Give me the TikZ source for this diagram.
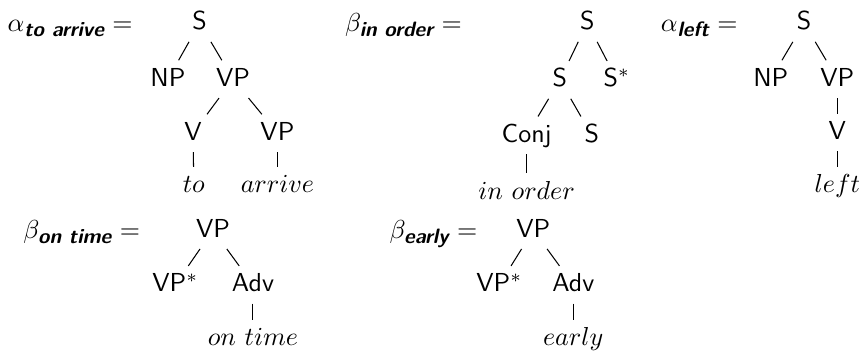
\documentclass[tikz,border=0pt]{standalone}
\usepackage{amsmath, amssymb}
\usepackage{xcolor}
\usepackage{tikz}
\usetikzlibrary{arrows.meta,positioning}

% subscript name of a tree
\newcommand{\treename}[1]{\mbox{\fontsize{8}{9}\selectfont\sffamily\bfseries\itshape #1}}

\begin{document}
\begin{tikzpicture}
  % Styles
  \tikzstyle{cat}=[inner sep=3.3pt, text height=1.5ex, text depth=.25ex, font=\sffamily]
  \tikzstyle{word}=[inner sep=3.3pt, text height=1.5ex, text depth=.25ex]
  \tikzstyle{lab}=[anchor=base east, inner sep=0pt]

  \useasboundingbox (0,0) rectangle (11.64,-4.81);

  % Tree 1: alpha to arrive
  \node[lab] (a1_lab) at (1.80,-0.42) {$\alpha_{\treename{to arrive}} =$};
  \node[cat] (a1_s)   at (2.70,-0.31) {S};
  \node[cat] (a1_np)  at (2.27,-1.07) {NP};
  \node[cat] (a1_vp)  at (3.15,-1.07) {VP};
  \node[cat] (a1_v)   at (2.61,-1.80) {V};
  \node[cat] (a1_vp2) at (3.75,-1.80) {VP};
  \node[word] (a1_to) at (2.62,-2.51) {$to$};
  \node[word] (a1_arrive) at (3.75,-2.51) {$arrive$};

  \draw (a1_s) -- (a1_np);
  \draw (a1_s) -- (a1_vp);
  \draw (a1_vp) -- (a1_v);
  \draw (a1_vp) -- (a1_vp2);
  \draw (a1_v) -- (a1_to);
  \draw (a1_vp2) -- (a1_arrive);

  % Tree 2: beta in order
  \node[lab] (b1_lab) at (6.25,-0.42) {$\beta_{\treename{in order}} =$};
  \node[cat] (b1_s)    at (7.94,-0.31) {S};
  \node[cat] (b1_s2)   at (7.57,-1.08) {S};
  \node[cat] (b1_foot) at (8.34,-1.08) {S$^*$};
  \node[cat] (b1_conj) at (7.12,-1.83) {Conj};
  \node[cat] (b1_s3)   at (8.00,-1.83) {S};
  \node[word] (b1_inorder) at (7.12,-2.60) {$in\ order$};

  \draw (b1_s) -- (b1_s2);
  \draw (b1_s) -- (b1_foot);
  \draw (b1_s2) -- (b1_conj);
  \draw (b1_s2) -- (b1_s3);
  \draw (b1_conj) -- (b1_inorder);

  % Tree 3: alpha left
  \node[lab] (a2_lab) at (9.98,-0.42) {$\alpha_{\treename{left}} =$};
  \node[cat] (a2_s)   at (10.87,-0.31) {S};
  \node[cat] (a2_np)  at (10.42,-1.07) {NP};
  \node[cat] (a2_vp)  at (11.32,-1.07) {VP};
  \node[cat] (a2_v)   at (11.32,-1.79) {V};
  \node[word] (a2_left) at (11.32,-2.51) {$left$};

  \draw (a2_s) -- (a2_np);
  \draw (a2_s) -- (a2_vp);
  \draw (a2_vp) -- (a2_v);
  \draw (a2_v) -- (a2_left);

  % Tree 4: beta on time
  \node[lab] (b2_lab) at (1.90,-3.22) {$\beta_{\treename{on time}} =$};
  \node[cat] (b2_vp)   at (2.88,-3.11) {VP};
  \node[cat] (b2_foot) at (2.37,-3.85) {VP$^*$};
  \node[cat] (b2_adv)  at (3.42,-3.85) {Adv};
  \node[word] (b2_ontime) at (3.42,-4.58) {$on\ time$};

  \draw (b2_vp) -- (b2_foot);
  \draw (b2_vp) -- (b2_adv);
  \draw (b2_adv) -- (b2_ontime);

  % Tree 5: beta early
  \node[lab] (b3_lab) at (6.46,-3.22) {$\beta_{\treename{early}} =$};
  \node[cat] (b3_vp)   at (7.21,-3.11) {VP};
  \node[cat] (b3_foot) at (6.75,-3.85) {VP$^*$};
  \node[cat] (b3_adv)  at (7.75,-3.85) {Adv};
  \node[word] (b3_early) at (7.75,-4.58) {$early$};

  \draw (b3_vp) -- (b3_foot);
  \draw (b3_vp) -- (b3_adv);
  \draw (b3_adv) -- (b3_early);
\end{tikzpicture}
\end{document}
